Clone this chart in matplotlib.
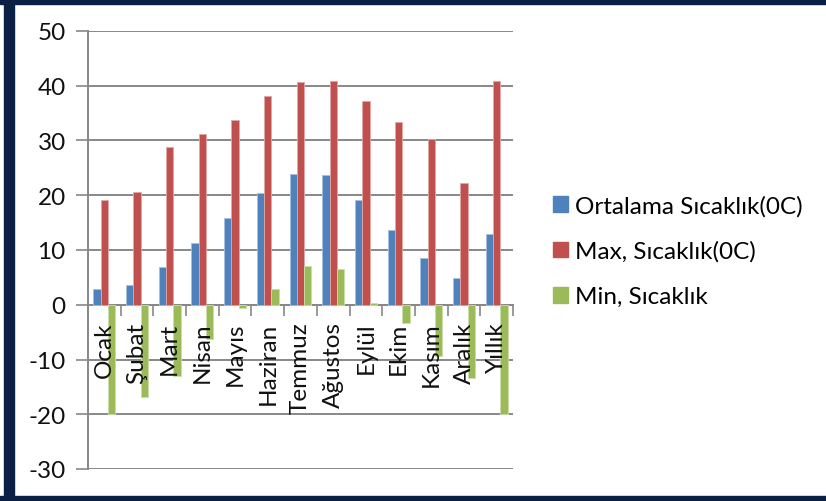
import numpy as np
import matplotlib.pyplot as plt
from matplotlib.patches import Patch, Rectangle

plt.rcParams['font.family'] = ['Lato', 'DejaVu Sans']
plt.rcParams['axes.unicode_minus'] = False

aylar = ['Ocak', 'Şubat', 'Mart', 'Nisan', 'Mayıs', 'Haziran', 'Temmuz',
         'Ağustos', 'Eylül', 'Ekim', 'Kasım', 'Aralık', 'Yıllık']
ortalama = [2.8, 3.6, 6.9, 11.2, 15.9, 20.4, 23.9, 23.7, 19.2, 13.6, 8.5, 4.8, 12.9]
maksimum = [19.2, 20.6, 28.8, 31.2, 33.8, 38.2, 40.6, 40.8, 37.3, 33.3, 30.2, 22.3, 40.8]
minimum = [-20.0, -16.8, -13.0, -6.3, -0.6, 2.8, 7.0, 6.6, 0.3, -3.3, -9.4, -13.3, -20.0]

seriler = ['Ortalama Sıcaklık(0C)', 'Max, Sıcaklık(0C)', 'Min, Sıcaklık']
renkler = ['#4F81BD', '#C0504D', '#9BBB59']
kenarlar = ['#A7C0DE', '#E0A8A6', '#CDDDAC']

fig = plt.figure(figsize=(8.26, 5.02), dpi=100)
ax = fig.add_axes([88/826, 1 - 470/502, 425/826, 438/502])

x = np.arange(len(aylar))
w = 0.224
for i, veri in enumerate([ortalama, maksimum, minimum]):
    ax.bar(x + (i - 1) * w, veri, w, color=renkler[i], edgecolor=kenarlar[i],
           linewidth=0.6, zorder=3)

ax.set_xlim(-0.5, len(aylar) - 0.5)
ax.set_ylim(-30, 50)
ax.set_yticks(range(-30, 51, 10))
ax.grid(axis='y', color='#888888', linewidth=1.4, zorder=0)
ax.tick_params(axis='y', length=9, width=1.2, color='#888888', labelsize=17.5,
               pad=7, labelcolor='#111111')

# kategori ekseni sıfır çizgisinde
for s in ['top', 'right']:
    ax.spines[s].set_visible(False)
ax.spines['bottom'].set_position(('data', 0))
ax.spines['bottom'].set_color('#888888')
ax.spines['bottom'].set_linewidth(1.4)
ax.spines['left'].set_color('#888888')
ax.spines['left'].set_linewidth(1.4)

ax.set_xticks(np.arange(-0.5, len(aylar), 1.0))
ax.set_xticklabels([])
ax.tick_params(axis='x', length=8, width=1.2, color='#888888')

# ay adları çubukların üstünde kalsın
for xi, ad in zip(x, aylar):
    ax.annotate(ad, (xi, 0), xytext=(0, -12), textcoords='offset points',
                rotation=90, ha='center', va='top', fontsize=17.5,
                color='#111111', zorder=5, annotation_clip=False)

handles = [Patch(facecolor=c, edgecolor=c) for c in renkler]
fig.legend(handles, seriler, loc='center left',
           bbox_to_anchor=(553/826, 1 - 252/502), frameon=False,
           fontsize=17.5, handlelength=0.62, handleheight=0.62, handletextpad=0.3,
           labelspacing=1.0, borderpad=0, borderaxespad=0)

# çerçeve
lacivert = '#0B1E44'
fig.patches.append(Rectangle((0, 1 - 5/502), 1, 5/502, transform=fig.transFigure,
                             color=lacivert, zorder=10))
fig.patches.append(Rectangle((0, 0), 1, 5/502, transform=fig.transFigure,
                             color=lacivert, zorder=10))
fig.patches.append(Rectangle((4/826, 0), 10/826, 1, transform=fig.transFigure,
                             color=lacivert, zorder=10))

fig.savefig('out.png', dpi=100)
